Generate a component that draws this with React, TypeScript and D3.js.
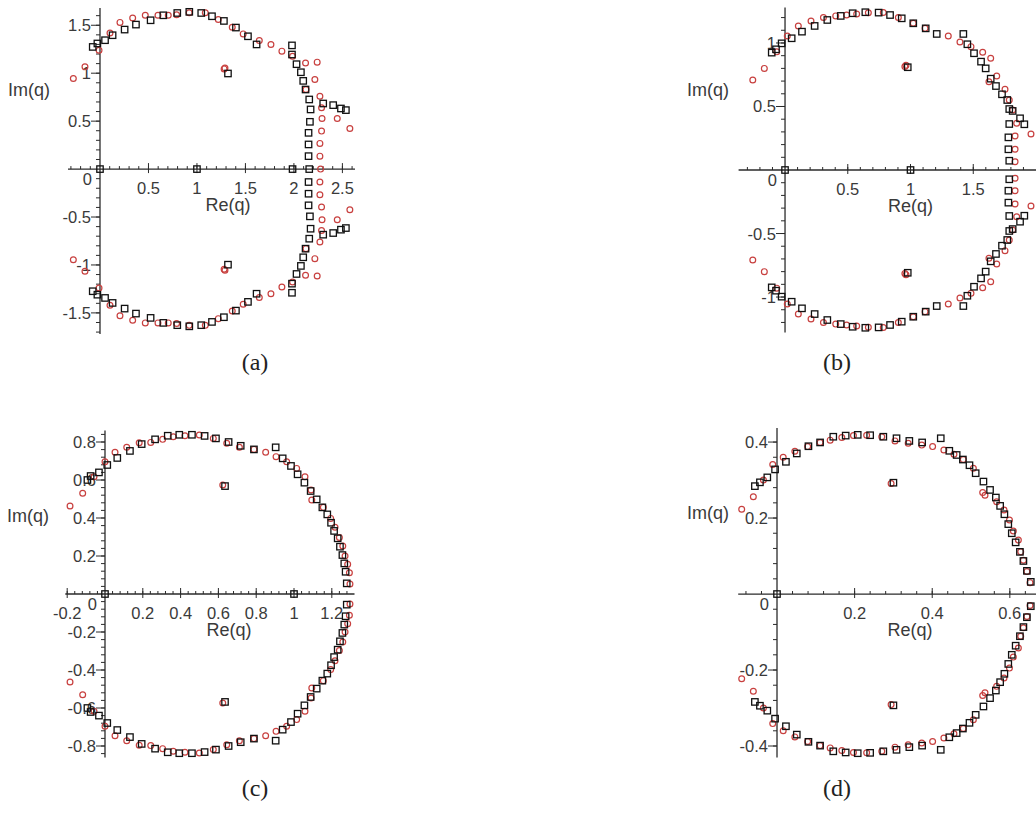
import React from 'react';
import * as d3 from 'd3';

type Pt = [number, number];

// upper half of each panel; the lower half is the conjugate set
const aRed: Pt[] = [
  [-0.275, 0.945], [-0.155, 1.066], [-0.01, 1.24], [0.103, 1.42], [0.206, 1.53], [0.337, 1.576],
  [0.467, 1.604], [0.598, 1.604], [0.704, 1.604], [0.79, 1.61], [0.92, 1.63], [1.086, 1.63],
  [1.22, 1.56], [1.364, 1.48], [1.477, 1.41], [1.643, 1.34], [1.763, 1.3], [1.876, 1.23],
  [1.986, 1.177], [2.12, 1.107], [2.24, 1.115], [2.216, 0.934], [2.124, 0.83], [2.268, 0.76],
  [2.285, 0.64], [2.29, 0.528], [2.285, 0.396], [2.268, 0.268], [2.268, 0.135], [2.275, 0],
  [2.447, 0.528], [2.577, 0.424], [1.289, 1.055], [1.28, 1.045],
];
const aBlack: Pt[] = [
  [-0.075, 1.274], [-0.027, 1.31], [0.052, 1.344], [0.13, 1.396], [0.254, 1.455], [0.371, 1.507],
  [0.522, 1.552], [0.653, 1.604], [0.797, 1.628], [0.921, 1.64], [1.044, 1.628], [1.155, 1.594],
  [1.278, 1.545], [1.402, 1.476], [1.526, 1.385], [1.615, 1.3], [1.98, 1.29], [1.98, 1.195],
  [2.027, 1.094], [2.072, 1.01], [2.096, 0.92], [2.12, 0.83], [2.158, 0.726], [2.172, 0.622],
  [2.165, 0.493], [2.151, 0.378], [2.151, 0.257], [2.151, 0.135], [2.158, 0],
  [2.302, 0.684], [2.405, 0.667], [2.485, 0.632], [2.536, 0.615], [1.32, 0.997],
  [0, 0], [1, 0], [1.986, 0],
];

const bRed: Pt[] = [
  [-0.257, 0.709], [-0.165, 0.8], [-0.066, 0.93], [0.018, 1.055], [0.106, 1.134], [0.207, 1.173],
  [0.306, 1.2], [0.404, 1.213], [0.491, 1.22], [0.571, 1.228], [0.664, 1.238], [0.783, 1.24],
  [0.903, 1.2], [1.022, 1.155], [1.116, 1.115], [1.301, 1.055], [1.394, 1.008], [1.482, 0.971],
  [1.575, 0.927], [1.639, 0.88], [1.687, 0.74], [1.625, 0.695], [1.753, 0.635], [1.787, 0.551],
  [1.814, 0.472], [1.846, 0.368], [1.833, 0.268], [1.833, 0.163], [1.833, 0.065], [1.96, 0.283],
  [0.964, 0.824], [0.955, 0.815],
];
const bBlack: Pt[] = [
  [-0.106, 0.924], [-0.072, 0.95], [-0.027, 0.997], [0.053, 1.037], [0.135, 1.089], [0.236, 1.134],
  [0.337, 1.181], [0.444, 1.213], [0.539, 1.234], [0.64, 1.242], [0.746, 1.239], [0.837, 1.22],
  [0.93, 1.194], [1.022, 1.155], [1.121, 1.115], [1.209, 1.071], [1.421, 1.071], [1.453, 0.99],
  [1.506, 0.919], [1.562, 0.853], [1.599, 0.8], [1.639, 0.719], [1.681, 0.661], [1.729, 0.596],
  [1.771, 0.551], [1.787, 0.48], [1.814, 0.465], [1.873, 0.407], [1.907, 0.36], [1.787, 0.362],
  [1.78, 0.257], [1.78, 0.163], [1.787, 0.073], [0.978, 0.809],
  [0, 0], [1, 0],
];

const cRed: Pt[] = [
  [-0.185, 0.463], [-0.118, 0.53], [-0.058, 0.617], [0.0, 0.696], [0.053, 0.746], [0.115, 0.772],
  [0.181, 0.796], [0.242, 0.798], [0.305, 0.814], [0.361, 0.828], [0.423, 0.833], [0.499, 0.837],
  [0.573, 0.819], [0.644, 0.793], [0.711, 0.772], [0.788, 0.761], [0.85, 0.746], [0.905, 0.723],
  [0.961, 0.696], [1.014, 0.661], [1.058, 0.617], [1.09, 0.547], [1.094, 0.495], [1.155, 0.456],
  [1.194, 0.398], [1.217, 0.351], [1.24, 0.298], [1.258, 0.253], [1.27, 0.2], [1.284, 0.156],
  [1.293, 0.112], [1.296, 0.053], [0.623, 0.574],
];
const cBlack: Pt[] = [
  [-0.093, 0.6], [-0.076, 0.621], [-0.032, 0.64], [0.012, 0.679], [0.065, 0.716], [0.132, 0.753],
  [0.194, 0.789], [0.265, 0.814], [0.332, 0.833], [0.393, 0.838], [0.46, 0.838], [0.527, 0.832],
  [0.587, 0.819], [0.654, 0.8], [0.718, 0.78], [0.788, 0.761], [0.903, 0.772], [0.94, 0.714],
  [0.984, 0.674], [1.019, 0.63], [1.055, 0.586], [1.088, 0.542], [1.12, 0.498], [1.15, 0.456],
  [1.176, 0.419], [1.196, 0.375], [1.212, 0.332], [1.231, 0.293], [1.243, 0.249], [1.256, 0.205],
  [1.266, 0.161], [1.273, 0.117], [1.279, 0.056], [0.635, 0.568],
  [0, 0], [1, 0],
];

const dRed: Pt[] = [
  [-0.091, 0.223], [-0.061, 0.256], [-0.035, 0.3], [-0.011, 0.341], [0.016, 0.36], [0.046, 0.376],
  [0.079, 0.388], [0.111, 0.399], [0.137, 0.405], [0.167, 0.412], [0.197, 0.417], [0.231, 0.418],
  [0.27, 0.414], [0.304, 0.403], [0.338, 0.397], [0.373, 0.392], [0.401, 0.388], [0.43, 0.379],
  [0.456, 0.368], [0.48, 0.354], [0.506, 0.331], [0.53, 0.267], [0.536, 0.26], [0.566, 0.243],
  [0.585, 0.221], [0.599, 0.195], [0.609, 0.166], [0.622, 0.142], [0.628, 0.111], [0.635, 0.089],
  [0.644, 0.059], [0.652, 0.03], [0.294, 0.291],
];
const dBlack: Pt[] = [
  [-0.057, 0.284], [-0.044, 0.294], [-0.025, 0.307], [-0.005, 0.328], [0.023, 0.348], [0.051, 0.37],
  [0.081, 0.389], [0.111, 0.399], [0.145, 0.414], [0.177, 0.417], [0.208, 0.419], [0.24, 0.418],
  [0.274, 0.414], [0.308, 0.41], [0.341, 0.403], [0.374, 0.399], [0.422, 0.41], [0.444, 0.377],
  [0.463, 0.366], [0.479, 0.354], [0.496, 0.339], [0.512, 0.318], [0.532, 0.296], [0.549, 0.274],
  [0.564, 0.254], [0.575, 0.232], [0.586, 0.21], [0.596, 0.184], [0.605, 0.16], [0.615, 0.136],
  [0.626, 0.111], [0.635, 0.087], [0.644, 0.061], [0.654, 0.032], [0.3, 0.293],
  [0, 0],
];

const aXTicks = [0.5, 1, 1.5, 2, 2.5];
const aYTicks = [-1.5, -1, -0.5, 0.5, 1, 1.5];
const bXTicks = [0.5, 1, 1.5];
const bYTicks = [-1, -0.5, 0.5, 1];
const cXTicks = [-0.2, 0.2, 0.4, 0.6, 0.8, 1, 1.2];
const cYTicks = [-0.8, -0.6, -0.4, -0.2, 0.2, 0.4, 0.6, 0.8];
const dXTicks = [0.2, 0.4, 0.6];
const dYTicks = [-0.4, -0.2, 0.2, 0.4];

const withConjugates = (pts: Pt[]): Pt[] =>
  pts.flatMap(([x, y]) => (Math.abs(y) < 0.01 ? [[x, y] as Pt] : [[x, y] as Pt, [x, -y] as Pt]));

const panels = [
  { red: aRed, black: aBlack, xTicks: aXTicks, yTicks: aYTicks, minor: 0.1,
    xDomain: [-0.33, 2.63], xRange: [68, 355], yDomain: [-1.72, 1.68], yRange: [334, 8],
    imX: 8, imY: 96, reAt: 1.32, caption: '(a)', capX: 255, capY: 370 },
  { red: bRed, black: bBlack, xTicks: bXTicks, yTicks: bYTicks, minor: 0.1,
    xDomain: [-0.37, 2.0], xRange: [738.6, 1036], yDomain: [-1.28, 1.28], yRange: [332.6, 7.4],
    imX: 687, imY: 96, reAt: 1.0, caption: '(b)', capX: 837, capY: 370 },
  { red: cRed, black: cBlack, xTicks: cXTicks, yTicks: cYTicks, minor: 0.04,
    xDomain: [-0.21, 1.32], xRange: [65.3, 354.5], yDomain: [-0.86, 0.86], yRange: [757.4, 430.6],
    imX: 7, imY: 522, reAt: 0.656, caption: '(c)', capX: 255, capY: 796 },
  { red: dRed, black: dBlack, xTicks: dXTicks, yTicks: dYTicks, minor: 0.04,
    xDomain: [-0.1, 0.67], xRange: [738.2, 1037], yDomain: [-0.43, 0.437], yRange: [757.4, 428],
    imX: 687, imY: 519, reAt: 0.343, caption: '(d)', capX: 837, capY: 796 },
];

const AXIS = '#2a2a2a';
const TEXT = '#3a3a3a';
const RED = '#c8403f';
const SANS = '"Liberation Sans", Arial, sans-serif';

function minorTicks(domain: number[], step: number) {
  const lo = Math.ceil(domain[0] / step + 1e-9);
  const hi = Math.floor(domain[1] / step - 1e-9);
  return d3.range(lo, hi + 1).map(i => i * step).filter(v => Math.abs(v) > 1e-9);
}

function Panel({ p }: { p: typeof panels[number] }) {
  const x = d3.scaleLinear().domain(p.xDomain).range(p.xRange);
  const y = d3.scaleLinear().domain(p.yDomain).range(p.yRange);
  const ox = x(0);
  const oy = y(0);
  const red = withConjugates(p.red);
  const black = withConjugates(p.black);

  return (
    <g>
      {/* axes */}
      <line x1={p.xRange[0]} x2={p.xRange[1]} y1={oy} y2={oy} stroke={AXIS} strokeWidth={1.3} />
      <line x1={ox} x2={ox} y1={p.yRange[0]} y2={p.yRange[1]} stroke={AXIS} strokeWidth={1.3} />
      {minorTicks(p.xDomain, p.minor).map(v => (
        <line key={'mx' + v} x1={x(v)} x2={x(v)} y1={oy - 3} y2={oy} stroke={AXIS} strokeWidth={1} />
      ))}
      {minorTicks(p.yDomain, p.minor).map(v => (
        <line key={'my' + v} x1={ox - 4} x2={ox} y1={y(v)} y2={y(v)} stroke={AXIS} strokeWidth={1} />
      ))}
      {p.xTicks.map(v => (
        <g key={'x' + v}>
          <line x1={x(v)} x2={x(v)} y1={oy - 6} y2={oy + 4} stroke={AXIS} strokeWidth={1} />
          <text x={x(v)} y={oy + 25} textAnchor="middle" fontSize={16.5} fill={TEXT} fontFamily={SANS}>
            {String(v)}
          </text>
        </g>
      ))}
      {p.yTicks.map(v => (
        <g key={'y' + v}>
          <line x1={ox - 9} x2={ox} y1={y(v)} y2={y(v)} stroke={AXIS} strokeWidth={1} />
          <text x={ox - 9} y={y(v) + 6} textAnchor="end" fontSize={16.5} fill={TEXT} fontFamily={SANS}>
            {String(v)}
          </text>
        </g>
      ))}
      <text x={ox - 8} y={oy + 16} textAnchor="end" fontSize={16.5} fill={TEXT} fontFamily={SANS}>0</text>
      <text x={x(p.reAt)} y={oy + 42} textAnchor="middle" fontSize={18} fill={TEXT} fontFamily={SANS}>Re(q)</text>
      <text x={p.imX} y={p.imY} fontSize={18} fill={TEXT} fontFamily={SANS}>Im(q)</text>

      {/* points */}
      {red.map((d, i) => (
        <circle key={'r' + i} cx={x(d[0])} cy={y(d[1])} r={2.9} fill="none" stroke={RED} strokeWidth={1.2} />
      ))}
      {black.map((d, i) => (
        <rect key={'b' + i} x={x(d[0]) - 3.2} y={y(d[1]) - 3.2} width={6.4} height={6.4}
          fill="none" stroke="#111" strokeWidth={1.3} />
      ))}

      <text x={p.capX} y={p.capY} textAnchor="middle" fontSize={24} fill="#222"
        fontFamily='"Liberation Serif", "DejaVu Serif", serif'>
        {p.caption}
      </text>
    </g>
  );
}

export default function App() {
  return (
    <svg width={1036} height={813} style={{ position: 'absolute', left: 0, top: 0, background: '#fff' }}>
      <rect width={1036} height={813} fill="#fff" />
      {panels.map((p, i) => <Panel key={i} p={p} />)}
    </svg>
  );
}
